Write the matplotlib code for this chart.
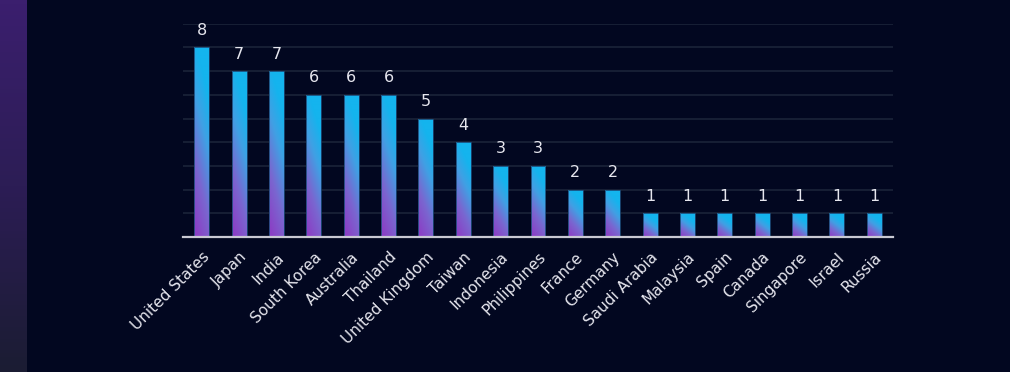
import numpy as np
import matplotlib
matplotlib.use("Agg")
import matplotlib.pyplot as plt
from matplotlib.colors import LinearSegmentedColormap

# data
countries = ["United States", "Japan", "India", "South Korea", "Australia", "Thailand",
             "United Kingdom", "Taiwan", "Indonesia", "Philippines", "France", "Germany",
             "Saudi Arabia", "Malaysia", "Spain", "Canada", "Singapore", "Israel", "Russia"]
counts = [8, 7, 7, 6, 6, 6, 5, 4, 3, 3, 2, 2, 1, 1, 1, 1, 1, 1, 1]

bg = "#020720"
fig = plt.figure(figsize=(10.1, 3.72), dpi=100, facecolor=bg)

# left purple strip
strip = fig.add_axes([0, 0, 27 / 1010, 1])
strip.imshow(np.linspace(1, 0, 100).reshape(-1, 1), aspect="auto", extent=(0, 1, 0, 1),
             cmap=LinearSegmentedColormap.from_list("s", ["#1b1c33", "#2c1d55", "#3b1f6e"]))
strip.axis("off")

ax = fig.add_axes([183 / 1010, 1 - 237 / 372, 710 / 1010, 213.3 / 372])
ax.set_facecolor("none")

cmap = LinearSegmentedColormap.from_list(
    "bar", [(0, "#8b3fc5"), (0.3, "#7a66d0"), (0.6, "#40a0e4"), (0.85, "#14b4ee"), (1, "#14b4ee")])

x = np.arange(len(countries))
w = 0.4
bars = ax.bar(x, counts, width=w, color="none", edgecolor="#1c4a78", linewidth=0.6, zorder=4)
uu, vv = np.meshgrid(np.linspace(0, 1, 30), np.linspace(0, 1, 200))
for b, xi, c in zip(bars, x, counts):
    # diagonal gradient in bar box coords, stronger on short bars
    t = np.clip(0.85 * vv + (0.25 + 0.15 / c) * uu - 0.05, 0, 1)
    im = ax.imshow(t, cmap=cmap, vmin=0, vmax=1, origin="lower", aspect="auto",
                   interpolation="bilinear", extent=(xi - w / 2, xi + w / 2, 0, c), zorder=3)
    im.set_clip_path(b)
    ax.text(xi, c + 0.4, str(c), ha="center", va="bottom", color="#e6e6ee", fontsize=11.5)

ax.set_xlim(-0.5, len(countries) - 0.5)
ax.set_ylim(0, 9)
ax.set_yticks(range(1, 10))
ax.yaxis.grid(True, color="#1b2339", linewidth=1.2, zorder=0)
ax.tick_params(axis="y", length=0, labelleft=False)
ax.tick_params(axis="x", length=0, pad=9)
ax.set_xticks(x)
ax.set_xticklabels(countries, rotation=45, ha="right", rotation_mode="anchor",
                   color="#e6e6ee", fontsize=11)
for s in ["top", "right", "left"]:
    ax.spines[s].set_visible(False)
ax.spines["bottom"].set_color("#c9c9d3")
ax.spines["bottom"].set_linewidth(1.6)
ax.spines["bottom"].set_zorder(5)

fig.savefig("out.png", dpi=100, facecolor=bg)
